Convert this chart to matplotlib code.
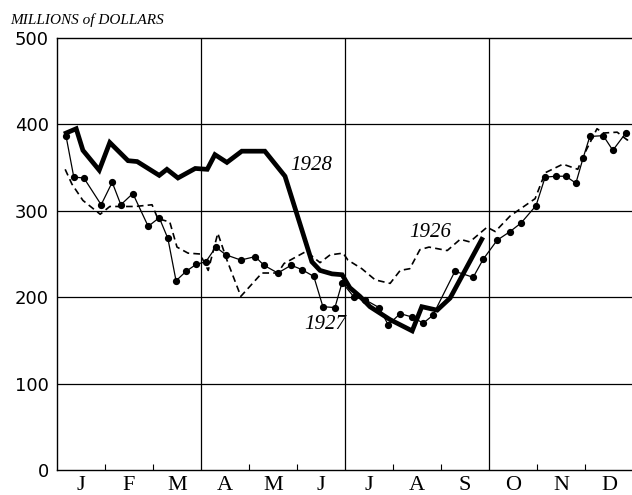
"""Weekly money totals, 1926-1928, redrawn from an old printed chart."""
import matplotlib
matplotlib.use("Agg")
import matplotlib.pyplot as plt

# month positions (0 = start of January) and values
x1926 = [0.17, 0.31, 0.54, 0.90, 1.10, 1.38, 1.63, 1.98, 2.10, 2.35, 2.50, 2.73,
         2.98, 3.15, 3.35, 3.54, 3.83, 4.27, 4.60, 4.73, 5.19, 5.48, 5.69, 5.96,
         6.06, 6.35, 6.63, 6.94, 7.15, 7.35, 7.56, 7.75, 8.13, 8.40, 8.60, 8.81,
         8.96, 9.13, 9.44, 9.96, 10.17, 10.54, 10.85, 10.96, 11.25, 11.38, 11.67,
         11.88, 11.98]
v1926 = [348, 331, 312, 296, 305, 305, 305, 307, 291, 287, 258, 251,
         250, 231, 274, 243, 201, 228, 228, 239, 253, 240, 249, 251,
         243, 233, 220, 216, 231, 233, 255, 258, 254, 267, 264, 274,
         281, 276, 294, 314, 344, 354, 348, 363, 395, 390, 391,
         382, 382]

x1927 = [0.19, 0.35, 0.56, 0.92, 1.15, 1.33, 1.58, 1.90, 2.13, 2.31, 2.48, 2.69,
         2.90, 3.10, 3.31, 3.52, 3.83, 4.13, 4.31, 4.60, 4.88, 5.10, 5.35, 5.54,
         5.79, 5.94, 6.19, 6.42, 6.71, 6.90, 7.15, 7.40, 7.63, 7.83, 8.29, 8.67,
         8.88, 9.17, 9.44, 9.67, 9.98, 10.17, 10.40, 10.60, 10.81, 10.96, 11.10,
         11.38, 11.58, 11.85]
v1927 = [386, 339, 338, 307, 333, 307, 320, 282, 292, 268, 219, 230,
         238, 241, 258, 249, 243, 247, 237, 228, 237, 232, 224, 189,
         188, 217, 200, 197, 188, 168, 181, 177, 170, 179, 230, 223,
         244, 266, 276, 286, 306, 339, 340, 340, 332, 361, 386,
         387, 370, 390]

x1928 = [0.19, 0.40, 0.54, 0.88, 1.10, 1.48, 1.67, 2.13, 2.29, 2.52, 2.88, 3.13,
         3.29, 3.54, 3.85, 4.33, 4.75, 5.31, 5.48, 5.73, 5.94, 6.10, 6.31, 6.52,
         6.94, 7.40, 7.60, 7.92, 8.19, 8.85]
v1928 = [390, 395, 370, 347, 379, 358, 357, 341, 348, 338, 349, 348,
         365, 356, 369, 369, 340, 241, 231, 227, 226, 211, 201, 189,
         174, 161, 189, 185, 199, 267]

months = ["J", "F", "M", "A", "M", "J", "J", "A", "S", "O", "N", "D"]
y_ticks = [0, 100, 200, 300, 400, 500]

fig = plt.figure(figsize=(6.32, 4.95), dpi=100)
ax = fig.add_axes([57 / 632, 25 / 495, 576 / 632, 432 / 495])

# grid: quarters and hundreds
for q in [3, 6, 9]:
    ax.axvline(q, color="black", lw=0.9, zorder=1)
for h in [100, 200, 300, 400]:
    ax.axhline(h, color="black", lw=0.9, zorder=1)

ax.plot(x1926, v1926, color="black", lw=1.2, ls=(0, (4, 2.5)), zorder=3)
ax.plot(x1927, v1927, color="black", lw=0.9, marker="o", ms=4.2, zorder=4)
ax.plot(x1928, v1928, color="black", lw=3.4, solid_joinstyle="miter", zorder=5)

ax.set_xlim(0, 12)
ax.set_ylim(0, 500)

for side in ["left", "bottom", "top"]:
    ax.spines[side].set_linewidth(1.0)
ax.spines["right"].set_visible(False)

ax.set_xticks([m + 0.5 for m in range(12)])
ax.set_xticklabels(months, family="Liberation Serif", fontsize=16)
ax.tick_params(axis="x", length=0, pad=4)
ax.set_xticks([1, 2, 4, 5, 7, 8, 10, 11], minor=True)
ax.tick_params(axis="x", which="minor", direction="in", length=4, width=0.8)

ax.set_yticks(y_ticks)
ax.set_yticklabels([str(t) for t in y_ticks], family="DejaVu Sans", fontsize=13)
ax.tick_params(axis="y", length=0, pad=6)

# series labels, placed beside their lines
year_font = dict(family="Liberation Serif", style="italic", fontsize=15,
                 ha="center", va="center")
ax.text(5.29, 352, "1928", **year_font)
ax.text(5.58, 168, "1927", **year_font)
ax.text(7.77, 275, "1926", **year_font)

fig.text(10 / 632, 1 - 20 / 495, "MILLIONS of DOLLARS", family="Liberation Serif",
         style="italic", fontsize=11, ha="left", va="center")

fig.savefig("out.png", dpi=100)
